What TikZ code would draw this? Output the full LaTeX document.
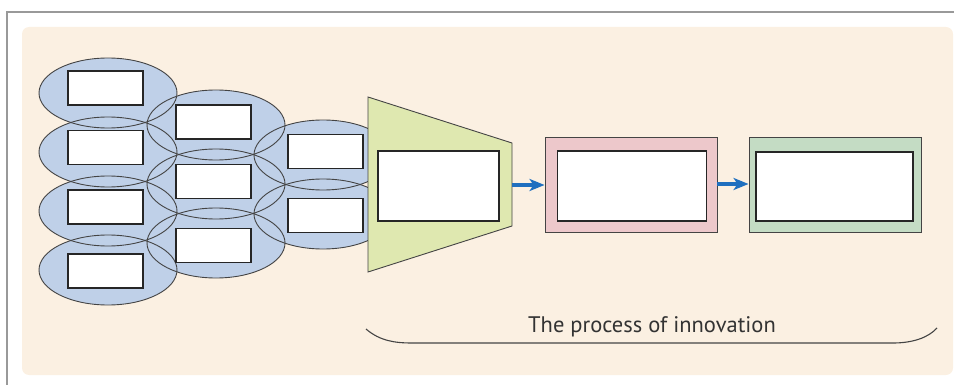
\documentclass[tikz,border=0pt]{standalone}
\usepackage{fontspec}
\setmainfont{PT Sans}
\usetikzlibrary{shapes.geometric,arrows.meta}
\definecolor{panel}{HTML}{FBF0E2}
\definecolor{ellfill}{HTML}{BFD0E8}
\definecolor{trapfill}{HTML}{DFE8B0}
\definecolor{pinkfill}{HTML}{EDC8CB}
\definecolor{greenfill}{HTML}{C4DCC4}
\definecolor{arrowblue}{HTML}{1F6FBF}
\definecolor{linegray}{HTML}{444444}
\definecolor{framegray}{HTML}{999999}
\tikzset{
  blob/.style={ellipse, minimum width=138pt, minimum height=70pt, inner sep=0pt},
  whitebox/.style={draw=black!85, line width=1.1pt, fill=white, inner sep=0pt},
  flow/.style={arrowblue, line width=3.2pt, -{Stealth[length=15pt,width=12pt,inset=4pt]}},
  stage/.style={draw=linegray, line width=0.9pt, inner sep=0pt}
}
\begin{document}
\begin{tikzpicture}[x=1pt,y=-1pt]
\useasboundingbox (0,0) rectangle (954,385);
% outer frame
\draw[framegray, line width=1.4pt] (7,385) -- (7,12) -- (954,12);
% panel
\fill[panel, rounded corners=7pt] (22,27) rectangle (953,375);
% ellipses: fill first
\foreach \n/\x/\y in {a1/108/93, a2/108/152, a3/108/211, a4/108/270,
                     b1/216/125, b2/216/184, b3/216/243,
                     c1/323/155, c2/323/214}{
  \node[blob, fill=ellfill] (\n) at (\x,\y) {};
}
\foreach \n/\x/\y in {a1/108/93, a2/108/152, a3/108/211, a4/108/270,
                     b1/216/125, b2/216/184, b3/216/243,
                     c1/323/155, c2/323/214}{
  \node[blob, draw=linegray, line width=0.9pt] (o\n) at (\x,\y) {};
}
% small boxes
\foreach \n/\x/\y in {a1/105.5/88, a2/105.5/147.5, a3/105.5/207, a4/105.5/271,
                     b1/213.5/122, b2/213.5/181.5, b3/213.5/245.5,
                     c1/325.5/151.5, c2/325.5/215.5}{
  \node[whitebox, minimum width=75pt, minimum height=34pt] (r\n) at (\x,\y) {};
}
% funnel
\draw[stage, fill=trapfill] (368,97) -- (512,143) -- (512,226) -- (368,272) -- cycle;
\coordinate (funnelout) at (512,185);
\node[whitebox, minimum width=121pt, minimum height=70pt] (fbox) at (438.5,186) {};
% pink stage
\node[stage, fill=pinkfill, minimum width=172pt, minimum height=95pt] (pink) at (631,184.5) {};
\node[whitebox, minimum width=149pt, minimum height=70pt] (pbox) at (632,186) {};
% green stage
\node[stage, fill=greenfill, minimum width=172pt, minimum height=95pt] (green) at (835,184.5) {};
\node[whitebox, minimum width=157pt, minimum height=69pt] (gbox) at (834.5,186.5) {};
% arrows
\draw[flow] (funnelout) -- (funnelout -| pink.west);
\draw[flow] (pink.east |- 0,184) -- (green.west |- 0,184);
% brace
\coordinate (bl) at (366,329);
\coordinate (br) at (937,328);
\draw[linegray, line width=1.1pt] (bl) .. controls (380,341) and (395,343) .. (412,343)
  -- (893,343) .. controls (912,343) and (928,338) .. (br);
\node[text=black!80, font=\fontsize{22.5}{26}\selectfont, anchor=base] (label) at (652,332) {The process of innovation};
\end{tikzpicture}
\end{document}
